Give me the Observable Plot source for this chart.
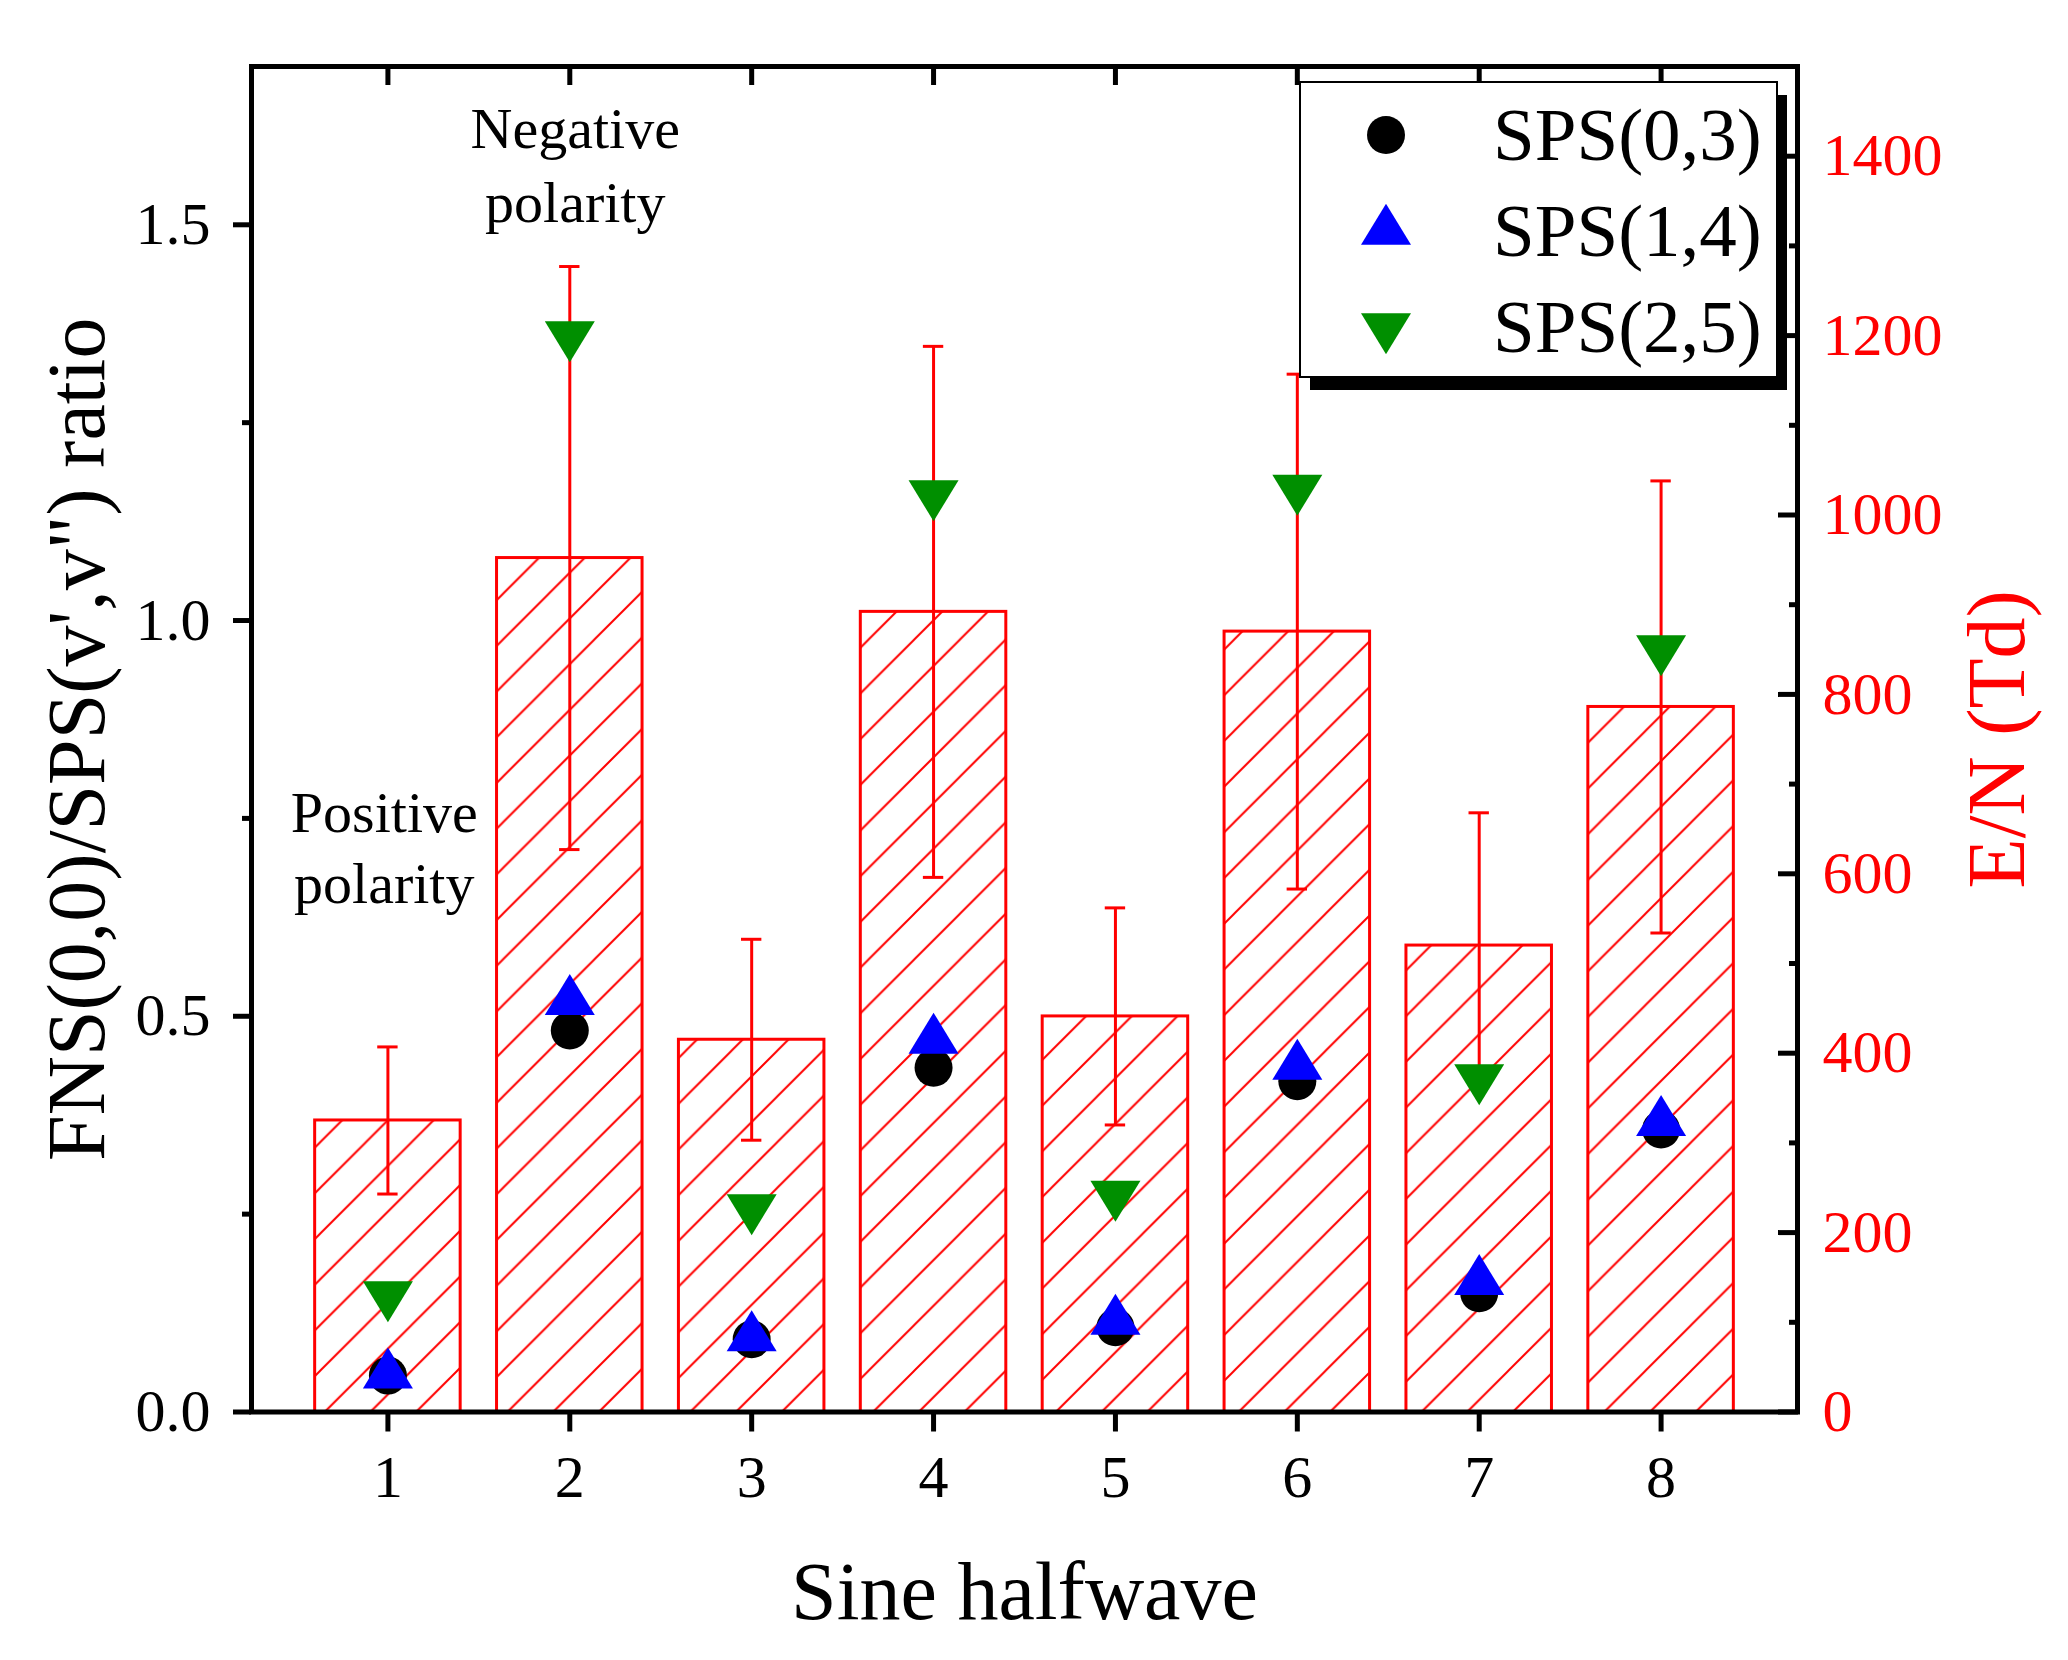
<!DOCTYPE html>
<html>
<head>
<meta charset="utf-8">
<script src="https://cdn.jsdelivr.net/npm/d3@7"></script>
<script src="https://cdn.jsdelivr.net/npm/@observablehq/plot@0.6"></script>
<style>
  html, body { margin: 0; padding: 0; background: #fff; }
  #chart { width: 2068px; height: 1660px; }
</style>
</head>
<body>
<div id="chart"></div>
<script>
// ---- data ----
const halfwaves = [1, 2, 3, 4, 5, 6, 7, 8];
const enTd      = [325, 952, 415, 892, 441, 870, 520, 786];   // E/N bars (Td), right axis
const enErr     = [82, 325, 112, 296, 121, 287, 148, 252];    // error bar half-widths (Td)
const sps03     = [0.046, 0.482, 0.092, 0.435, 0.107, 0.418, 0.150, 0.357];
const sps14     = [0.047, 0.519, 0.094, 0.470, 0.115, 0.437, 0.165, 0.366];
const sps25     = [0.148, 1.361, 0.258, 1.160, 0.275, 1.167, 0.422, 0.964];
const seriesNames = ["SPS(0,3)", "SPS(1,4)", "SPS(2,5)"];
const leftTicks  = [0, 0.5, 1.0, 1.5];
const leftMinor  = [0.25, 0.75, 1.25];
const rightTicks = [0, 200, 400, 600, 800, 1000, 1200, 1400];
const rightMinor = [100, 300, 500, 700, 900, 1100, 1300];
const yLabel = "FNS(0,0)/SPS(v',v\") ratio";
const xLabel = "Sine halfwave";
const y2Label = "E/N (Td)";
const annotations = [
  {text: "Negative\npolarity", x: 2.03, y: 1.503, lh: 1.28},
  {text: "Positive\npolarity", x: 0.98, y: 0.643, lh: 1.22}
];

const yMax = 1.7, enMax = 1500;
const k = yMax / enMax; // Td -> left-axis units

const RED = "#ff0000", BLUE = "#0000ff", GREEN = "#008f00";
const FONT = "'Liberation Serif', 'Times New Roman', Times, serif";

// custom triangle symbols (centroid at origin), wider than tall
const triUp = {draw(ctx, size) {
  const r = Math.sqrt(size / Math.PI), w = 2.5 * r, h = 2.05 * r;
  ctx.moveTo(0, -2 * h / 3); ctx.lineTo(w / 2, h / 3); ctx.lineTo(-w / 2, h / 3); ctx.closePath();
}};
const triDown = {draw(ctx, size) {
  const r = Math.sqrt(size / Math.PI), w = 2.5 * r, h = 2.05 * r;
  ctx.moveTo(0, 2 * h / 3); ctx.lineTo(w / 2, -h / 3); ctx.lineTo(-w / 2, -h / 3); ctx.closePath();
}};

const bars = halfwaves.map((x, i) => ({x, en: enTd[i], err: enErr[i]}));
const pts = (arr) => halfwaves.map((x, i) => ({x, v: arr[i]}));

const svg = Plot.plot({
  width: 2068,
  height: 1660,
  marginLeft: 251,
  marginRight: 271,
  marginTop: 66,
  marginBottom: 248.5,
  style: {fontFamily: FONT, fontSize: "60px", background: "white", color: "black"},
  x: {domain: [0.25, 8.75], axis: null},
  y: {domain: [0, yMax], axis: null},
  marks: [
    // bars (E/N, right axis units converted)
    Plot.rect(bars, {x1: d => d.x - 0.4, x2: d => d.x + 0.4, y1: 0, y2: d => d.en * k,
      fill: "url(#hatch)", stroke: RED, strokeWidth: 3}),
    Plot.frame({stroke: "black", strokeWidth: 5}),
    // error bars
    Plot.ruleX(bars, {x: "x", y1: d => (d.en - d.err) * k, y2: d => (d.en + d.err) * k, stroke: RED, strokeWidth: 3}),
    Plot.ruleY(bars, {y: d => (d.en + d.err) * k, x1: d => d.x - 0.056, x2: d => d.x + 0.056, stroke: RED, strokeWidth: 3}),
    Plot.ruleY(bars, {y: d => (d.en - d.err) * k, x1: d => d.x - 0.056, x2: d => d.x + 0.056, stroke: RED, strokeWidth: 3}),
    // points
    Plot.dot(pts(sps03), {x: "x", y: "v", r: 19, fill: "black", symbol: "circle"}),
    Plot.dot(pts(sps14), {x: "x", y: "v", r: 20, fill: BLUE, symbol: triUp}),
    Plot.dot(pts(sps25), {x: "x", y: "v", r: 20, fill: GREEN, symbol: triDown}),
    // axes
    Plot.axisX(halfwaves, {anchor: "bottom", tickSize: 20, tickPadding: 22, strokeWidth: 5,
      fontSize: 60, label: null, tickFormat: d => String(d)}),
    Plot.axisX(halfwaves, {anchor: "top", tickSize: -18, strokeWidth: 5, label: null, tickFormat: () => ""}),
    Plot.axisY(leftTicks, {anchor: "left", tickSize: 18, tickPadding: 23, strokeWidth: 5,
      fontSize: 60, label: null, tickFormat: d => d.toFixed(1)}),
    Plot.axisY(leftMinor, {anchor: "left", tickSize: 9, strokeWidth: 5, label: null, tickFormat: () => ""}),
    Plot.axisY(rightTicks.map(v => v * k), {anchor: "right", tickSize: -20, tickPadding: 45, strokeWidth: 5,
      fontSize: 60, fill: RED, stroke: "black", label: null, tickFormat: d => String(Math.round(d / k))}),
    Plot.axisY(rightMinor.map(v => v * k), {anchor: "right", tickSize: -9, strokeWidth: 5, label: null, tickFormat: () => ""}),
    // axis titles
    Plot.text([xLabel], {frameAnchor: "bottom", dy: 206.5, lineAnchor: "bottom", fontSize: 82, fill: "black"}),
    Plot.text([yLabel], {frameAnchor: "left", rotate: -90, dx: -148, lineAnchor: "bottom", textAnchor: "middle", fontSize: 82, fill: "black"}),
    Plot.text([y2Label], {frameAnchor: "right", rotate: -90, dx: 226, lineAnchor: "bottom", textAnchor: "middle", fontSize: 82, fill: RED}),
    // annotations
    ...annotations.map(a => Plot.text([a], {x: "x", y: "y", text: "text", lineAnchor: "bottom", lineHeight: a.lh,
      textAnchor: "middle", fontSize: 58, fill: "black"}))
  ]
});

// hatch pattern definition
const sel = d3.select(svg);
const defs = sel.insert("defs", ":first-child");
const S = 45.7;
const pat = defs.append("pattern").attr("id", "hatch").attr("patternUnits", "userSpaceOnUse")
  .attr("width", S).attr("height", S).attr("x", 0).attr("y", 0);
pat.append("rect").attr("width", S).attr("height", S).attr("fill", "white");
pat.append("path")
  .attr("d", `M${-S/4},${S/4} L${S/4},${-S/4} M0,${S} L${S},0 M${S*3/4},${S*5/4} L${S*5/4},${S*3/4}`)
  .attr("stroke", RED).attr("stroke-width", 2).attr("fill", "none");

// legend
const lg = sel.append("g").attr("font-family", FONT).attr("text-anchor", "start");
const L = {x: 1300, y: 82, w: 477, h: 295, sx: 10, sy: 13};
lg.append("rect").attr("x", L.x + L.sx).attr("y", L.y + L.sy).attr("width", L.w).attr("height", L.h).attr("fill", "black");
lg.append("rect").attr("x", L.x).attr("y", L.y).attr("width", L.w).attr("height", L.h)
  .attr("fill", "white").attr("stroke", "black").attr("stroke-width", 2);
const legendSyms = [
  {type: d3.symbolCircle, r: 19, fill: "black"},
  {type: triUp, r: 20, fill: BLUE},
  {type: triDown, r: 20, fill: GREEN}
];
seriesNames.forEach((name, i) => {
  const cy = 135 + i * 96;
  const s = legendSyms[i];
  lg.append("path").attr("transform", `translate(1386,${cy})`)
    .attr("d", d3.symbol(s.type, Math.PI * s.r * s.r)()).attr("fill", s.fill);
  lg.append("text").attr("x", 1493).attr("y", cy + 25).attr("font-size", 75)
    .attr("text-anchor", "start").attr("fill", "black").text(name);
});

document.getElementById("chart").appendChild(svg);
</script>
</body>
</html>
